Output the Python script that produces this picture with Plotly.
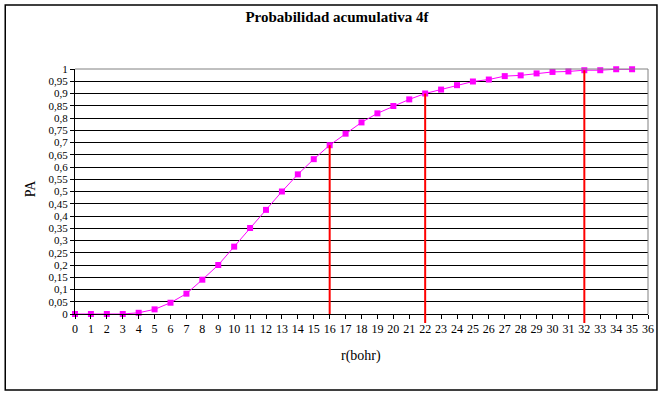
import plotly.graph_objects as go

r_bohr = list(range(0, 36))
pa = [0.0, 0.0, 0.0, 0.0, 0.005, 0.019, 0.046, 0.083, 0.14, 0.2,
      0.275, 0.351, 0.425, 0.5, 0.57, 0.632, 0.689, 0.736, 0.782, 0.819,
      0.849, 0.876, 0.9, 0.916, 0.934, 0.949, 0.957, 0.971, 0.974, 0.982,
      0.988, 0.99, 0.995, 0.995, 0.999, 0.999]

red_r = [16, 22, 32]
red_ext = [False, True, True]

y_tickvals = [i * 0.05 for i in range(21)]
y_ticktext = ["0", "0,05", "0,1", "0,15", "0,2", "0,25", "0,3", "0,35", "0,4", "0,45",
              "0,5", "0,55", "0,6", "0,65", "0,7", "0,75", "0,8", "0,85", "0,9", "0,95", "1"]
x_tickvals = list(range(0, 37))
x_ticktext = [str(v) for v in x_tickvals]

W, H = 666, 396
L, R, T, B = 75, 16, 69, 82
pw, ph = W - L - R, H - T - B

def px_x(p):
    return (p - L) / pw

def px_y(p):
    return (H - B - p) / ph

FONT = "Liberation Serif, Times New Roman, serif"

fig = go.Figure()
fig.add_trace(go.Scatter(
    x=r_bohr, y=pa, mode="lines+markers",
    line=dict(color="#FF00FF", width=1),
    marker=dict(symbol="square", size=6, color="#FF00FF"),
    cliponaxis=False, showlegend=False, hoverinfo="skip"))

shapes = []
for rv, ext in zip(red_r, red_ext):
    v = pa[r_bohr.index(rv)]
    fig.add_trace(go.Scatter(
        x=[rv, rv], y=[0, v], mode="lines",
        line=dict(color="#FF0000", width=2),
        showlegend=False, hoverinfo="skip"))
    if ext:
        shapes.append(dict(type="line", xref="x", yref="paper", x0=rv, x1=rv,
                           y0=px_y(323), y1=0, line=dict(color="#FF0000", width=2),
                           layer="above"))

# plot-area border (gray top and right)
shapes.append(dict(type="line", xref="paper", yref="paper", x0=0, x1=1, y0=1, y1=1,
                   line=dict(color="#808080", width=1), layer="above"))
shapes.append(dict(type="line", xref="paper", yref="paper", x0=1, x1=1, y0=0, y1=1,
                   line=dict(color="#808080", width=1), layer="above"))
# outer chart border
shapes.append(dict(type="rect", xref="paper", yref="paper",
                   x0=px_x(5), x1=px_x(659), y0=px_y(390), y1=px_y(5),
                   line=dict(color="#000000", width=1.5), layer="above"))

fig.update_layout(
    width=W, height=H,
    margin=dict(l=L, r=R, t=T, b=B),
    paper_bgcolor="white", plot_bgcolor="white",
    font=dict(family=FONT, size=12, color="black"),
    title=dict(text="<b>Probabilidad acumulativa 4f</b>", x=337 / W,
               xanchor="center", y=1 - 17 / H, yanchor="middle", yref="container",
               font=dict(family=FONT, size=15, color="black")),
    shapes=shapes,
    annotations=[
        dict(text="PA", xref="paper", yref="paper", x=px_x(30), y=px_y(188),
             xanchor="center", yanchor="middle",
             showarrow=False, textangle=-90, font=dict(family=FONT, size=14)),
        dict(text="r(bohr)", xref="paper", yref="paper", x=px_x(362), y=px_y(356),
             xanchor="center", yanchor="middle",
             showarrow=False, font=dict(family=FONT, size=14)),
    ],
)
fig.update_xaxes(range=[0, 36], tickvals=x_tickvals, ticktext=x_ticktext,
                 showgrid=False, zeroline=False, showline=True, linecolor="black",
                 linewidth=1, ticks="outside", ticklen=4, tickcolor="black",
                 tickfont=dict(family=FONT, size=12))
fig.update_yaxes(range=[0, 1], tickvals=y_tickvals, ticktext=y_ticktext,
                 showgrid=True, gridcolor="black", gridwidth=1, zeroline=False,
                 showline=True, linecolor="black", linewidth=1,
                 ticks="outside", ticklen=4, tickcolor="black",
                 tickfont=dict(family=FONT, size=11))

fig.write_html("out.html", config={"displayModeBar": False},
               post_script="document.body.style.margin='0';document.body.style.padding='0';")
